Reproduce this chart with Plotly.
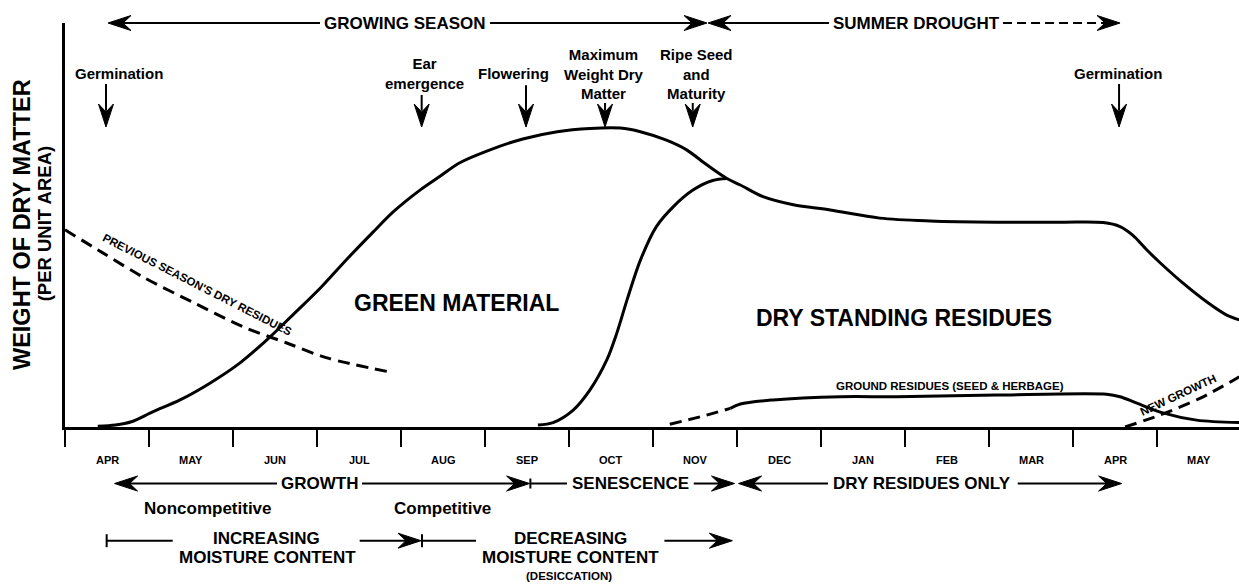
import plotly.graph_objects as go

# ---------------- data (x: months from start of first April, y: relative dry matter 0-100)
months = ["APR", "MAY", "JUN", "JUL", "AUG", "SEP", "OCT", "NOV",
          "DEC", "JAN", "FEB", "MAR", "APR", "MAY"]

# total standing material (green material, then green + dry standing residues)
total_x = [0.39, 0.60, 0.79, 1.05, 1.37, 1.73, 2.08, 2.40, 2.71, 3.04, 3.35, 3.67,
           3.91, 4.23, 4.46, 4.70, 5.06, 5.45, 5.86, 6.25, 6.61, 6.85, 7.16, 7.40,
           7.64, 7.88, 8.04, 8.31, 8.67, 9.11, 9.70, 10.30, 11.09, 11.88, 12.36,
           12.56, 12.71, 12.88, 13.04, 13.31, 13.59, 13.83, 13.98]
total_y = [0.2, 0.5, 1.3, 3.8, 6.7, 10.9, 15.8, 21.5, 27.7, 34.4, 41.4, 48.3,
           53.3, 58.7, 62.0, 65.4, 68.6, 71.3, 73.1, 73.9, 74.0, 73.1, 71.0, 68.6,
           64.9, 61.5, 59.9, 57.0, 55.0, 53.7, 51.7, 51.0, 50.7, 50.7, 50.6,
           49.6, 47.5, 43.8, 40.6, 35.6, 31.0, 27.7, 26.5]

# dry standing residues building up from senescence
dry_x = [5.63, 5.81, 6.05, 6.25, 6.45, 6.57, 6.69, 6.85, 7.04, 7.24, 7.48, 7.71, 7.88]
dry_y = [0.5, 1.1, 4.2, 9.2, 16.6, 23.3, 31.4, 41.3, 49.6, 54.5, 58.7, 61.0, 61.5]

# previous season's dry residues
prev_x = [0.0, 0.45, 0.93, 1.52, 2.12, 2.64, 3.12, 3.87]
prev_y = [48.8, 43.1, 37.1, 30.9, 24.8, 20.8, 17.1, 13.6]

# ground residues (seed & herbage)
ground_start_x = [7.20, 7.56, 7.92]
ground_start_y = [0.7, 2.5, 4.6]
ground_x = [7.92, 8.04, 8.43, 9.23, 9.90, 11.09, 12.40, 12.56, 12.76, 13.07, 13.47, 13.98]
ground_y = [4.6, 5.7, 6.7, 7.5, 7.5, 7.9, 8.1, 7.5, 5.9, 3.5, 1.7, 1.1]

# new growth of next season
new_x = [12.62, 13.04, 13.51, 13.98]
new_y = [0.0, 3.0, 7.1, 12.4]

# phenological events: (label, arrow x, label x)
events = [
    ("Germination", 0.488, 0.643),
    ("Ear<br>emergence", 4.246, 4.274),
    ("Flowering", 5.488, 5.345),
    ("Maximum<br>Weight Dry<br>Matter", 6.429, 6.417),
    ("Ripe Seed<br>and<br>Maturity", 7.473, 7.512),
    ("Germination", 12.548, 12.536),
]
event_shaft_top = [0.849, 0.822, 0.846, 0.802, 0.802, 0.849]

XMAX = 13.976
FONT = "Liberation Sans, Arial, Helvetica, sans-serif"

fig = go.Figure()


def add_curve(x, y, dash=None):
    fig.add_trace(go.Scatter(
        x=x, y=y, mode="lines",
        line=dict(color="black", width=3, shape="spline", smoothing=0.9, dash=dash),
        hoverinfo="skip", showlegend=False))


add_curve(total_x, total_y)
add_curve(dry_x, dry_y)
add_curve(prev_x, prev_y, dash="12px,7px")
add_curve(ground_start_x, ground_start_y, dash="12px,7px")
add_curve(ground_x, ground_y)
add_curve(new_x, new_y, dash="12px,7px")

# ---------------- helpers for annotations / arrows
def label(x, y, s, size, xref="x", yref="paper", angle=0, bold=True):
    fig.add_annotation(x=x, y=y, xref=xref, yref=yref, text=s, showarrow=False,
                       textangle=angle, xanchor="center", yanchor="middle",
                       align="center",
                       font=dict(family=FONT, size=size, color="black",
                                 weight="bold" if bold else "normal"))


def hline(x0, x1, y, dash=None, width=2):
    fig.add_shape(type="line", xref="x", yref="paper", x0=x0, x1=x1, y0=y, y1=y,
                  line=dict(color="black", width=width, dash=dash), layer="above")


def vline(x, y0, y1, width=2):
    fig.add_shape(type="line", xref="x", yref="paper", x0=x, x1=x, y0=y0, y1=y1,
                  line=dict(color="black", width=width), layer="above")


HL, HW, HN = 23, 7.5, 15
HEADS = {
    "left": f"M0,0 L{HL},{HW} L{HN},0 L{HL},{-HW} Z",
    "right": f"M0,0 L{-HL},{HW} L{-HN},0 L{-HL},{-HW} Z",
    "down": f"M0,0 L{-HW},{HL} L0,{HN} L{HW},{HL} Z",
}


def head(x, y, direction):
    fig.add_shape(type="path", xref="x", yref="paper", xsizemode="pixel",
                  ysizemode="pixel", xanchor=x, yanchor=y, path=HEADS[direction],
                  fillcolor="black", line=dict(color="black", width=1), layer="above")


def arrow_h(x_tail, x_tip, y, dash=None):
    d = 0.12 if x_tip > x_tail else -0.12
    hline(x_tail, x_tip - d, y, dash=dash)
    head(x_tip, y, "right" if x_tip > x_tail else "left")


# ---------------- top: growing season / summer drought
TOP = 1.0
arrow_h(3.036, 0.512, TOP)
label(4.048, TOP, "GROWING SEASON", 17)
arrow_h(5.060, 7.643, TOP)
arrow_h(9.095, 7.655, TOP)
label(10.131, TOP, "SUMMER DROUGHT", 17)
arrow_h(11.167, 12.560, TOP, dash="9px,5px")

# ---------------- event arrows
TIP = 0.7426
for (txt, ax_, tx), top in zip(events, event_shaft_top):
    label(tx, 0.8738 if txt != "Ear<br>emergence" else 0.8762, txt, 15)
    vline(ax_, top, TIP + 0.04)
    head(ax_, TIP, "down")

# ---------------- in-plot labels
label(1.583, 35.2, "PREVIOUS SEASON'S DRY RESIDUES", 11.5, yref="y", angle=27)
label(4.655, 30.7, "GREEN MATERIAL", 23, yref="y")
label(9.988, 27.0, "DRY STANDING RESIDUES", 23, yref="y")
label(10.536, 10.2, "GROUND RESIDUES (SEED &amp; HERBAGE)", 11.5, yref="y")
label(13.25, 7.9, "NEW GROWTH", 11.5, yref="y", angle=-25)

# ---------------- month labels
for i, m in enumerate(months):
    label(i + 0.5, -0.0817, m, 11)

# ---------------- growth / senescence / dry residues row
R1 = -0.1399
arrow_h(2.524, 0.590, R1)
label(3.024, R1, "GROWTH", 17)
arrow_h(3.536, 5.531, R1)
vline(5.540, R1 - 0.0124, R1 + 0.0124)
hline(5.540, 5.976, R1)
label(6.730, R1, "SENESCENCE", 17)
arrow_h(7.485, 7.970, R1)
arrow_h(9.083, 8.018, R1)
label(10.202, R1, "DRY RESIDUES ONLY", 17)
arrow_h(11.342, 12.579, R1)

label(1.708, -0.2017, "Noncompetitive", 17)
label(4.488, -0.2017, "Competitive", 17)

# ---------------- moisture content row
R2 = -0.2814
vline(0.496, R2 - 0.016, R2 + 0.016)
hline(0.496, 1.282, R2)
label(2.393, -0.2748, "INCREASING", 17)
label(2.405, -0.3225, "MOISTURE CONTENT", 17)
arrow_h(3.508, 4.238, R2)
vline(4.250, R2 - 0.016, R2 + 0.016)
hline(4.250, 4.893, R2)
label(6.012, -0.2748, "DECREASING", 17)
label(6.019, -0.3225, "MOISTURE CONTENT", 17)
label(6.000, -0.3681, "(DESICCATION)", 11.5)
arrow_h(7.136, 7.945, R2)

# ---------------- y-axis title
label(-0.0366, 0.5, "WEIGHT OF DRY MATTER", 23.5, xref="paper", angle=-90)
label(-0.0179, 0.504, "(PER UNIT AREA)", 18.5, xref="paper", angle=-90)

fig.update_layout(
    width=1239, height=585, autosize=False,
    margin=dict(l=65, r=0, t=23, b=158, pad=0),
    paper_bgcolor="white", plot_bgcolor="white",
    font=dict(family=FONT, color="black"),
    showlegend=False,
    xaxis=dict(range=[0, XMAX], showline=True, linecolor="black", linewidth=2.5,
               ticks="outside", ticklen=17, tickwidth=2, tickcolor="black",
               tickvals=list(range(14)), showticklabels=False, showgrid=False,
               zeroline=False, fixedrange=True),
    yaxis=dict(range=[0, 100], showline=True, linecolor="black", linewidth=2.5,
               ticks="", showticklabels=False, showgrid=False, zeroline=False,
               fixedrange=True),
)

fig.write_html(
    "out.html",
    config={"displayModeBar": False},
    post_script="document.body.style.margin='0px';document.body.style.overflow='hidden';",
)
